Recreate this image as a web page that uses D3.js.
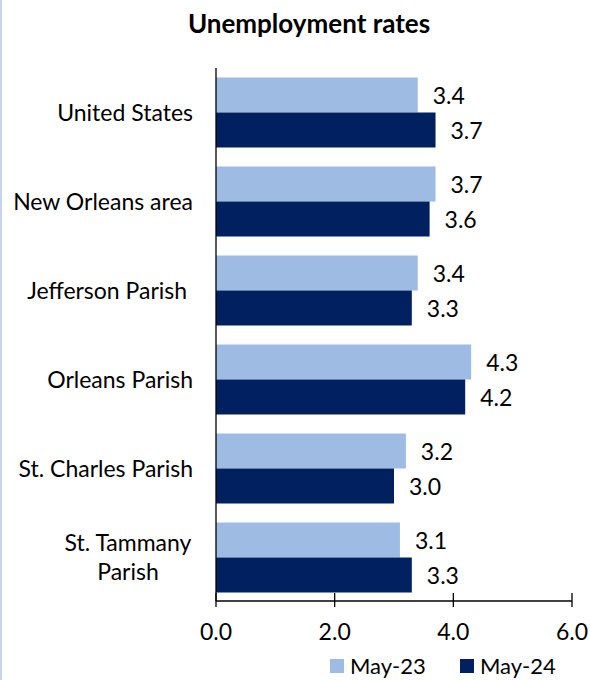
<!DOCTYPE html>
<html>
<head>
<meta charset="utf-8">
<script src="https://cdn.jsdelivr.net/npm/d3@7"></script>
<style>
  body { margin: 0; background: #fff; }
  svg { display: block; font-family: Lato, 'Open Sans', sans-serif; }
</style>
</head>
<body>
<svg id="chart" width="590" height="680"></svg>
<script>
// data
const categories = ['United States', 'New Orleans area', 'Jefferson Parish\u00a0', 'Orleans Parish', 'St. Charles Parish', 'St. Tammany Parish']
const seriesNames = ['May-23', 'May-24']
const may23 = [3.4, 3.7, 3.4, 4.3, 3.2, 3.1]
const may24 = [3.7, 3.6, 3.3, 4.2, 3.0, 3.3]
const xTicks = [0, 2, 4, 6]
const colors = ['#9dbbe3', '#002060']

const fs = '23px'
const svg = d3.select('#chart')

// thin blue frame on the left side
svg.append('rect').attr('x', 0).attr('y', 0).attr('width', 2).attr('height', 680).attr('fill', '#c6d6ef')

svg.append('text')
  .attr('x', 309).attr('y', 33)
  .attr('text-anchor', 'middle')
  .style('font-weight', 'bold').style('font-size', '26px')
  .text('Unemployment rates')

const x = d3.scaleLinear().domain([0, 6]).range([216, 572])
const y = d3.scaleBand().domain(categories).range([68, 602])
  .paddingInner(19 / 89).paddingOuter(9.5 / 89)
const ySub = d3.scaleBand().domain(seriesNames).range([0, y.bandwidth()])

const rows = categories.map((c, i) => ({ cat: c, vals: [may23[i], may24[i]] }))

const groups = svg.selectAll('.cat')
  .data(rows)
  .enter()
  .append('g')
  .attr('class', 'cat')
  .attr('transform', d => `translate(0,${y(d.cat)})`)

groups.selectAll('rect')
  .data(d => d.vals.map((v, j) => ({ v, s: seriesNames[j], j })))
  .enter()
  .append('rect')
  .attr('x', x(0))
  .attr('y', d => ySub(d.s))
  .attr('width', d => x(d.v) - x(0))
  .attr('height', ySub.bandwidth())
  .attr('fill', d => colors[d.j])

groups.selectAll('.val')
  .data(d => d.vals.map((v, j) => ({ v, s: seriesNames[j] })))
  .enter()
  .append('text')
  .attr('class', 'val')
  .attr('x', d => x(d.v) + 15)
  .attr('y', d => ySub(d.s) + ySub.bandwidth() / 2 + 1)
  .attr('dy', '0.35em')
  .style('font-size', fs)
  .text(d => d.v.toFixed(1))

// category labels, long ones wrap onto two centred lines
const labelX = 193
groups.each(function (d) {
  const g = d3.select(this)
  const cy = y.bandwidth() / 2
  if (d.cat === 'St. Tammany Parish') {
    const lines = ['St. Tammany', 'Parish']
    const t = g.append('text')
      .attr('text-anchor', 'middle')
      .style('font-size', fs)
    lines.forEach((l, k) => {
      t.append('tspan')
        .attr('x', labelX - 65)
        .attr('y', cy + (k - 0.5) * 29)
        .attr('dy', '0.35em')
        .text(l)
    })
  } else {
    g.append('text')
      .attr('x', labelX)
      .attr('y', cy)
      .attr('dy', '0.35em')
      .attr('text-anchor', 'end')
      .style('font-size', fs)
      .text(d.cat)
  }
})

// axes
svg.append('line')
  .attr('x1', x(0)).attr('x2', x(0))
  .attr('y1', 68).attr('y2', 601)
  .attr('stroke', '#000').attr('stroke-width', 1.3)

const xAxisG = svg.append('g').attr('transform', 'translate(0,601)')
xAxisG.append('line')
  .attr('x1', x(0)).attr('x2', x(6))
  .attr('stroke', '#000').attr('stroke-width', 1.3)
xAxisG.selectAll('.tick')
  .data(xTicks)
  .enter()
  .append('line')
  .attr('x1', d => x(d)).attr('x2', d => x(d))
  .attr('y1', -8).attr('y2', 6)
  .attr('stroke', '#000').attr('stroke-width', 1.3)
xAxisG.selectAll('.tl')
  .data(xTicks)
  .enter()
  .append('text')
  .attr('x', d => x(d))
  .attr('y', 31)
  .attr('dy', '0.35em')
  .attr('text-anchor', 'middle')
  .style('font-size', fs)
  .text(d => d.toFixed(1))

// legend (kept just inside the bottom edge)
const legendX = [330, 460]
const legend = svg.selectAll('.leg')
  .data(seriesNames)
  .enter()
  .append('g')
  .attr('transform', (d, i) => `translate(${legendX[i]},659)`)
legend.append('rect')
  .attr('width', 14).attr('height', 14)
  .attr('fill', (d, i) => colors[i])
legend.append('text')
  .attr('x', 20).attr('y', 7)
  .attr('dy', '0.35em')
  .style('font-size', '22px')
  .text(d => d)
</script>
</body>
</html>
